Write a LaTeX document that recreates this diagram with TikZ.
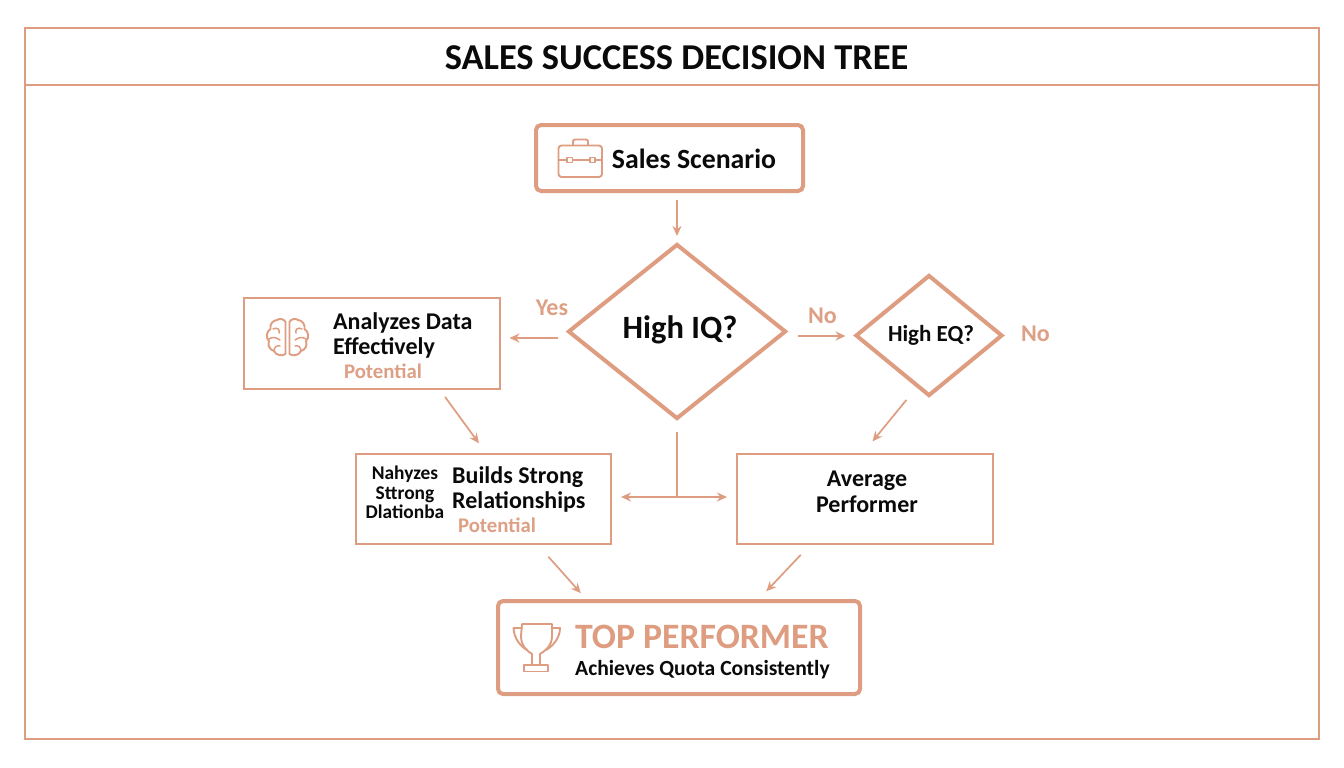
\documentclass[tikz,border=0pt]{standalone}
\usepackage{fontspec}
\setmainfont{Carlito}
\usetikzlibrary{shapes.geometric,arrows.meta}
\definecolor{peach}{HTML}{DE9C80}
\definecolor{peachtxt}{HTML}{DDA085}
\definecolor{ink}{HTML}{0A0A0A}
\tikzset{
  x=1pt,y=-1pt,
  thinbox/.style={draw=peach,line width=2pt,inner sep=0pt},
  thickbox/.style={draw=peach,line width=4pt,rounded corners=5pt,inner sep=0pt},
  dia/.style={diamond,draw=peach,line width=4pt,inner sep=0pt,aspect=1.2,text=ink,font=\bfseries},
  blk/.style={text=ink,font=\bfseries,inner sep=0pt,align=center},
  pch/.style={text=peachtxt,font=\bfseries,inner sep=0pt},
  arr/.style={draw=peach,line width=1.7pt,-{Stealth[length=10pt,width=9pt]}},
  plain/.style={draw=peach,line width=1.7pt},
  icon/.style={draw=peach,line width=1.9pt,line join=round,line cap=round},
  fs/.style={font=\bfseries\fontsize{#1}{#1}\selectfont},
}
\begin{document}
\begin{tikzpicture}
\useasboundingbox (0,0) rectangle (1344,768);
\fill[white] (0,0) rectangle (1344,768);
% frame & title
\node[thinbox,minimum width=1294pt,minimum height=711pt] (frame) at (672,383.5) {};
\node[thinbox,minimum width=1294pt,minimum height=57pt] (title) at (672,56.5) {};
\node[text=ink,fs=36.4,inner sep=0pt] (ttext) at (676.5,57.5) {SALES SUCCESS DECISION TREE};
% main boxes
\node[thickbox,minimum width=267pt,minimum height=66pt] (sales) at (669.5,158) {};
\node[dia,minimum width=218pt,minimum height=175pt,fs=32.5] (iq) at (677,331.5) {\raisebox{8pt}{\hspace*{6pt}High IQ?}};
\node[dia,minimum width=147pt,minimum height=121pt,fs=23] (eq) at (929,335.5) {\hspace*{4pt}High EQ?};
\node[thinbox,minimum width=256pt,minimum height=91pt] (box1) at (371.5,343.5) {};
\node[thinbox,minimum width=255pt,minimum height=90pt] (box2) at (483.5,499) {};
\node[thinbox,minimum width=256pt,minimum height=90pt] (avg) at (865,499) {};
\node[thickbox,minimum width=362pt,minimum height=93pt] (top) at (679,647.5) {};
% texts
\node[blk,fs=27.8] (t1) at (694,159) {Sales Scenario};
\node[blk,align=left,anchor=north west,font=\bfseries\fontsize{24}{25}\selectfont] (t2) at (333,312) {Analyzes Data\\Effectively};
\node[pch,fs=20.8] (t3) at (383,371) {Potential};
\node[blk,align=center,font=\bfseries\fontsize{19.4}{19.5}\selectfont] (t4) at (405,492.5) {Nahyzes\\Sttrong\\Dlationba};
\node[blk,align=left,anchor=north west,font=\bfseries\fontsize{24}{25}\selectfont] (t5) at (452,466) {Builds Strong\\Relationships};
\node[pch,fs=20.8] (t6) at (497,525) {Potential};
\node[blk,font=\bfseries\fontsize{24}{26}\selectfont] (t7) at (867,491.5) {Average\\Performer};
\node[text=peach,inner sep=0pt,fs=35.7,anchor=west] (t8) at (575,637) {TOP PERFORMER};
\node[blk,fs=21.6,anchor=west] (t9) at (575,670) {Achieves Quota Consistently};
\node[pch,fs=24] (yes) at (552,308) {Yes};
\node[pch,fs=24] (no1) at (822.5,316) {No};
\node[pch,fs=24] (no2) at (1035.5,333.5) {No};
% connectors
\coordinate (junc) at (677,497);
\draw[arr,shorten <=7pt,shorten >=6pt] (sales.south -| iq.north) -- (iq.north);
\draw[arr,shorten <=8pt,shorten >=9pt] ([yshift=-6.5pt]iq.west) -- ([yshift=-6.5pt]iq.west -| box1.east);
\draw[arr,shorten <=10pt,shorten >=8pt] ([yshift=-4.5pt]iq.east) -- ([yshift=-4.5pt]iq.east -| eq.west);
\draw[arr,shorten <=8.6pt,shorten >=12pt] ([xshift=68.5pt]box1.south) -- ([xshift=2.5pt]box2.north);
\draw[arr,shorten <=2.5pt,shorten >=15pt] ([xshift=-21pt]eq.south) -- ([xshift=-2pt]avg.north);
\draw[plain,shorten <=11pt] (iq.south) -- (junc);
\draw[arr,shorten >=9pt] (junc) -- (junc -| box2.east);
\draw[arr,shorten >=9pt] (junc) -- (junc -| avg.west);
\draw[arr,shorten <=15.7pt,shorten >=7.8pt] ([xshift=54.5pt]box2.south) -- ([xshift=-93pt]top.north);
\draw[arr,shorten <=13.5pt,shorten >=10.6pt] ([xshift=-55pt]avg.south) -- ([xshift=80pt]top.north);
% briefcase icon
\draw[icon,rounded corners=3pt] (558.5,145.5) rectangle (602,177);
\draw[icon,rounded corners=2pt] (573,145) -- (573,139.5) -- (588,139.5) -- (588,145);
\draw[icon,line width=1.5pt] (558.5,160) -- (567,160) (572.5,160) -- (590,160) (595,160) -- (602,160);
\draw[icon,line width=1.5pt] (567,157.5) rectangle (572.5,162.5) (590,157.5) rectangle (595,162.5);
% brain icon
\draw[icon] (285.5,322) to[bend right=50] (277,320) to[bend right=50] (270.5,329) to[bend right=55] (269,341) to[bend right=50] (274,351) to[bend right=50] (285.5,354) -- cycle;
\draw[icon] (289.5,322) to[bend left=50] (298,320) to[bend left=50] (304.5,329) to[bend left=55] (306,341) to[bend left=50] (301,351) to[bend left=50] (289.5,354) -- cycle;
\draw[icon,line width=1.5pt] (273,329) .. controls (277,327) and (280,329) .. (279,333) (269,339) .. controls (273,336) and (277,338) .. (280,340) (274,351) .. controls (274,347) and (277,345) .. (280,346);
\draw[icon,line width=1.5pt] (302,329) .. controls (298,327) and (295,329) .. (296,333) (306,339) .. controls (302,336) and (298,338) .. (295,340) (301,351) .. controls (301,347) and (298,345) .. (295,346);
% trophy icon
\draw[icon] (522,624) -- (552,624) -- (552,636) .. controls (552,646) and (545,651) .. (540,654) -- (540,665) -- (532,665) -- (532,654) .. controls (527,651) and (521,646) .. (521,636) -- cycle;
\draw[icon] (522,628) -- (513.5,628) .. controls (514,638) and (520,646) .. (527,650);
\draw[icon] (552,628) -- (560,628) .. controls (560,638) and (553,646) .. (546,650);
\draw[icon] (524,665) rectangle (548,671.5);
\end{tikzpicture}
\end{document}
